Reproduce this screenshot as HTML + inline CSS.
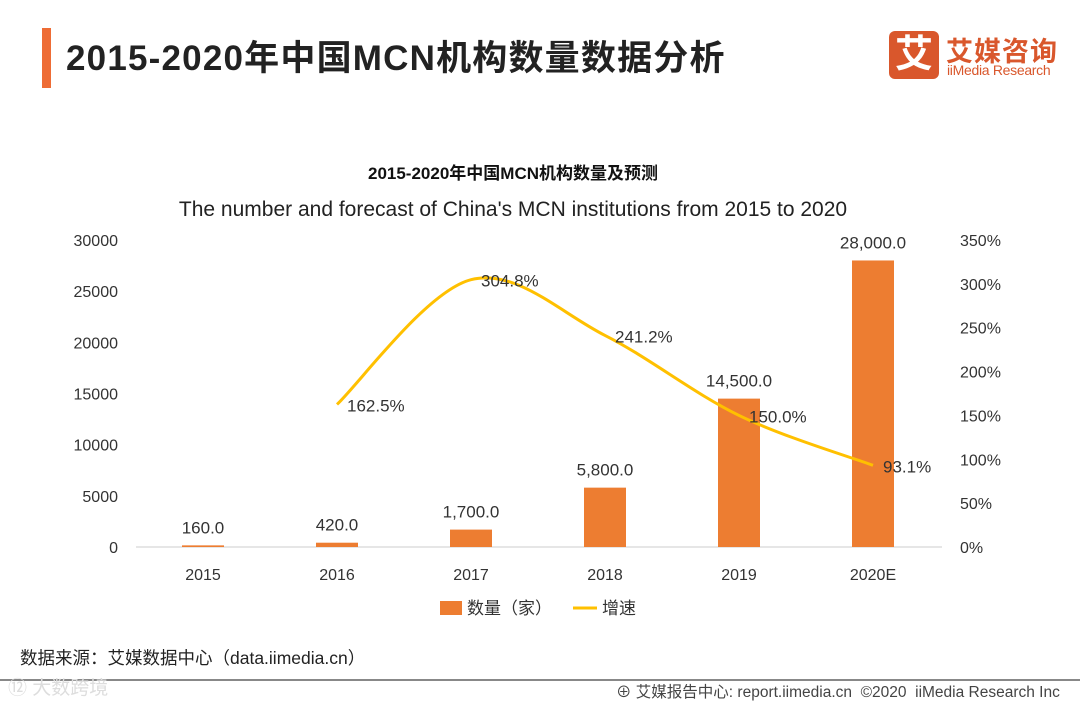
<!DOCTYPE html>
<html><head><meta charset="utf-8"><style>
body{margin:0;width:1080px;height:702px;background:#fff;overflow:hidden;font-family:"Liberation Sans","Noto Sans CJK SC",sans-serif;position:relative}
.abs{position:absolute}
</style></head><body>
<div class="abs" style="left:42px;top:28px;width:9px;height:60px;background:#ee6c35"></div>
<div class="abs" style="left:66px;top:30px;font-size:35px;color:#222;font-weight:bold;letter-spacing:1.2px">2015-2020年中国MCN机构数量数据分析</div>
<div class="abs" style="left:889px;top:31px;width:50px;height:48px;background:#d9572c;border-radius:6px;color:#fff;font-size:38px;font-weight:bold;text-align:center;line-height:48px">艾</div>
<div class="abs" style="left:946px;top:30px;font-size:27px;color:#d9572c;font-weight:bold;letter-spacing:1px">艾媒咨询</div>
<div class="abs" style="left:947px;top:62px;font-size:14px;color:#d9572c;letter-spacing:-0.3px">iiMedia Research</div>
<svg class="abs" style="left:0;top:0" width="1080" height="702" id="chart"></svg>
<div class="abs" style="left:20px;top:645px;font-size:17.5px;color:#222">数据来源：艾媒数据中心（data.iimedia.cn）</div>
<div class="abs" style="left:0;top:679px;width:1080px;height:2px;background:#888"></div>
<div class="abs" style="left:8px;top:673px;font-size:19px;color:#ddd">⑫ 大数跨境</div>
<div class="abs" style="left:616px;top:680px;font-size:15.5px;color:#444">⊕ 艾媒报告中心: report.iimedia.cn &nbsp;©2020 &nbsp;iiMedia Research Inc</div>
<script>
const categories=["2015","2016","2017","2018","2019","2020E"];
const counts=[160,420,1700,5800,14500,28000];
const growth=[null,162.5,304.8,241.2,150.0,93.1];
const leftTicks=[0,5000,10000,15000,20000,25000,30000];
const rightTicks=[0,50,100,150,200,250,300,350];
const NS="http://www.w3.org/2000/svg";
const svg=document.getElementById('chart');
const y0=547,yTop=240,x0=136,step=134;
const yL=v=>y0-v/30000*(y0-yTop);
const yR=v=>y0-v/350*(y0-yTop);
const xC=i=>x0+67+i*step;
function mk(t,a,txt){const e=document.createElementNS(NS,t);for(const k in a)e.setAttribute(k,a[k]);if(txt!==undefined)e.textContent=txt;svg.appendChild(e);return e;}
let e;
e=mk('text',{x:513,y:179,'text-anchor':'middle','font-size':17,'font-weight':'bold',fill:'#111'},'2015-2020年中国MCN机构数量及预测');


e=mk('text',{x:513,y:216,'text-anchor':'middle','font-size':21,fill:'#222'},"The number and forecast of China's MCN institutions from 2015 to 2020");


e=mk('line',{x1:x0,x2:942,y1:y0,y2:y0,stroke:'#ccc','stroke-width':1});


leftTicks.forEach(v=>{e=mk('text',{x:118,y:yL(v)+6,'text-anchor':'end','font-size':16,fill:'#333'},String(v));

});
rightTicks.forEach(v=>{e=mk('text',{x:960,y:yR(v)+6,'font-size':16,fill:'#333'},v+'%');

});
categories.forEach((c,i)=>{e=mk('text',{x:xC(i),y:580,'text-anchor':'middle','font-size':16,fill:'#333'},c);


const y=yL(counts[i]);
e=mk('rect',{x:xC(i)-21,y:y,width:42,height:y0-y,fill:'#ed7d31'});


e=mk('text',{x:xC(i),y:y-12,'text-anchor':'middle','font-size':17,fill:'#333'},counts[i].toLocaleString('en-US',{minimumFractionDigits:1}));

});
const pts=[];growth.forEach((g,i)=>{if(g!==null)pts.push([xC(i),yR(g)]);});
let d='M'+pts[0][0]+','+pts[0][1];
for(let i=0;i<pts.length-1;i++){const p0=pts[Math.max(0,i-1)],p1=pts[i],p2=pts[i+1],p3=pts[Math.min(pts.length-1,i+2)];
const c1=[p1[0]+(p2[0]-p0[0])/6,p1[1]+(p2[1]-p0[1])/6],c2=[p2[0]-(p3[0]-p1[0])/6,p2[1]-(p3[1]-p1[1])/6];
d+=` C${c1[0]},${c1[1]} ${c2[0]},${c2[1]} ${p2[0]},${p2[1]}`;}
e=mk('path',{d:d,fill:'none',stroke:'#ffc000','stroke-width':3});


growth.forEach((g,i)=>{if(g===null)return;
e=mk('text',{x:xC(i)+10,y:yR(g)+7,'font-size':17,fill:'#333'},g.toFixed(1)+'%');

});
e=mk('rect',{x:440,y:601,width:22,height:14,fill:'#ed7d31'});


e=mk('text',{x:467,y:614,'font-size':17,fill:'#333'},'数量（家）');


e=mk('line',{x1:573,x2:597,y1:608,y2:608,stroke:'#ffc000','stroke-width':3});


e=mk('text',{x:602,y:614,'font-size':17,fill:'#333'},'增速');


</script>
</body></html>
